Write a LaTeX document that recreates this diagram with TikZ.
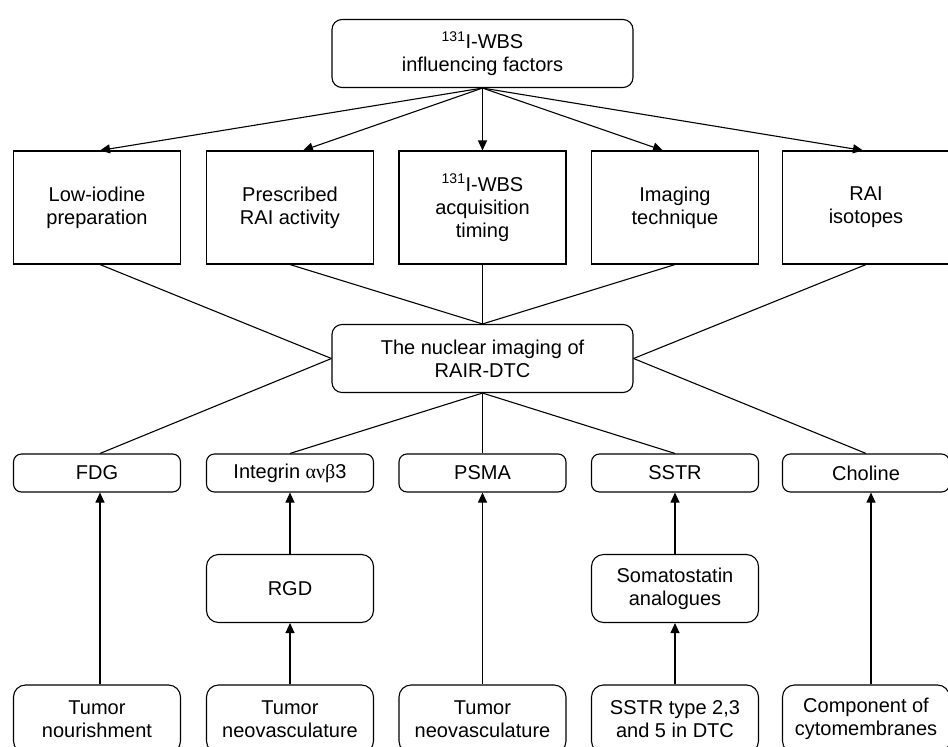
\documentclass[tikz,border=0pt]{standalone}
\usepackage{fontspec}
\setmainfont{Liberation Sans}
\newfontfamily\greekfont{Liberation Serif}
\usetikzlibrary{arrows.meta}
\begin{document}
\begin{tikzpicture}[x=1pt, y=-1pt, line width=1.1pt, >={Triangle[length=10pt,width=9pt]},
	every node/.style={draw, font=\fontsize{20}{23}\selectfont, align=center, inner sep=0pt},
	roundbox/.style={rounded corners=10pt, minimum width=301pt, minimum height=68pt},
	factor/.style={minimum width=167pt, minimum height=113pt},
	tracer/.style={rounded corners=8pt, minimum width=167pt, minimum height=38pt},
	basis/.style={rounded corners=12pt, minimum width=167pt, minimum height=68pt}]
		\useasboundingbox (0,0) rectangle (948,747);
		\clip (0,0) rectangle (948,747);
		\node[roundbox] (wbs) at (482.5,53.5) {\textsuperscript{131}I-WBS\\influencing factors};
		\node[factor] (f1) at (97,207.5) {Low-iodine\\preparation};
		\node[factor] (f2) at (290,207.5) {Prescribed\\RAI activity};
		\node[factor] (f3) at (482.5,207.5) {\textsuperscript{131}I-WBS\\acquisition\\timing};
		\node[factor] (f4) at (675,207.5) {Imaging\\technique};
		\node[factor] (f5) at (866,207.5) {RAI\\isotopes};
		\node[roundbox] (nuc) at (482.5,358.5) {The nuclear imaging of\\RAIR-DTC};
		\node[tracer] (t1) at (97,473) {FDG};
		\node[tracer] (t2) at (290,473) {Integrin {\greekfont ανβ}3};
		\node[tracer] (t3) at (482.5,473) {PSMA};
		\node[tracer] (t4) at (675,473) {SSTR};
		\node[tracer] (t5) at (866,473) {Choline};
		\node[basis] (rgd) at (290,588.5) {RGD};
		\node[basis] (som) at (675,588.5) {Somatostatin\\analogues};
		\node[basis] (b1) at (97,719) {Tumor\\nourishment};
		\node[basis] (b2) at (290,719) {Tumor\\neovasculature};
		\node[basis] (b3) at (482.5,719) {Tumor\\neovasculature};
		\node[basis] (b4) at (675,719) {SSTR type 2,3\\and 5 in DTC};
		\node[basis] (b5) at (866,719) {Component of\\cytomembranes};
		\draw[->] (wbs.south) -- ([xshift=3pt]f1.north);
		\draw[->] (wbs.south) -- ([xshift=13pt]f2.north);
		\draw[->] (wbs.south) -- (f3.north);
		\draw[->] (wbs.south) -- ([xshift=-12pt]f4.north);
		\draw[->] (wbs.south) -- ([xshift=-3pt]f5.north);
		\draw ([xshift=3pt]f1.south) -- (nuc.west);
		\draw (f2.south) -- (nuc.north);
		\draw (f3.south) -- (nuc.north);
		\draw (f4.south) -- (nuc.north);
		\draw (f5.south) -- (nuc.east);
		\draw (nuc.west) -- ([xshift=3pt]t1.north);
		\draw (nuc.south) -- (t2.north);
		\draw (nuc.south) -- (t3.north);
		\draw (nuc.south) -- (t4.north);
		\draw (nuc.east) -- (t5.north);
		\draw[->] ([xshift=3pt]b1.north) -- ([xshift=3pt]t1.south);
		\draw[->] (b2.north) -- (rgd.south);
		\draw[->] (rgd.north) -- (t2.south);
		\draw[->] (b3.north) -- (t3.south);
		\draw[->] (b4.north) -- (som.south);
		\draw[->] (som.north) -- (t4.south);
		\draw[->] ([xshift=5pt]b5.north) -- ([xshift=5pt]t5.south);
\end{tikzpicture}
\end{document}
